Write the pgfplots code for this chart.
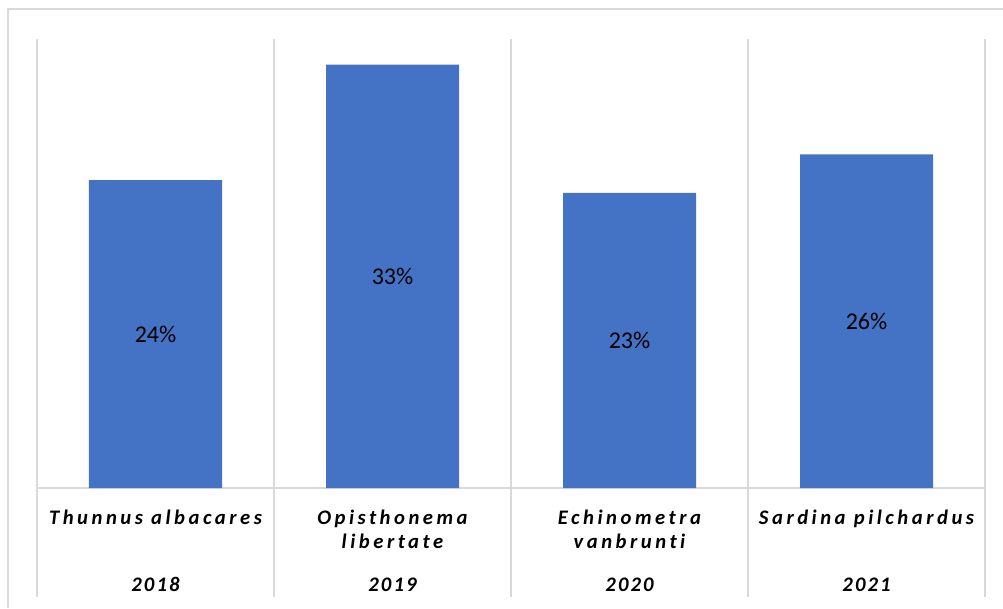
\documentclass[border=0pt]{standalone}
\usepackage{pgfplots}
\pgfplotsset{compat=1.18}
\usepackage{fontspec}
\setmainfont{Carlito}
\newfontfamily\catfont[LetterSpace=17,Ligatures=NoCommon]{Carlito}
\newfontfamily\yearfont[LetterSpace=10]{Carlito}
\definecolor{barblue}{HTML}{4472C4}
\definecolor{gridgray}{HTML}{D9D9D9}

\begin{document}
\begin{tikzpicture}
  % page area and chart frame
  \path[use as bounding box] (0pt,0pt) rectangle (752.25pt,456pt);
  \draw[gridgray, line width=1.5pt] (6pt,0pt) -- (6pt,449.25pt) -- (752.25pt,449.25pt);

  \begin{axis}[
    at={(27.75pt,90pt)}, anchor=south west,
    scale only axis,
    width=711pt, height=336.75pt,
    xmin=-0.5, xmax=3.5, ymin=0, ymax=35,
    axis line style={draw=none},
    ytick=\empty,
    xtick={0,1,2,3},
    major tick length=0pt,
    xticklabels={
      {Thunnus albacares},
      {Opisthonema\\libertate},
      {Echinometra\\vanbrunti},
      {Sardina pilchardus}},
    xticklabel style={anchor=north, inner sep=0pt, yshift=-16.5pt,
      align=center, font=\catfont\fontsize{15.5}{17.6}\selectfont\bfseries\itshape},
    ybar, bar width=99.75pt, bar shift=0pt,
    clip=false,
    /pgf/number format/assume math mode=true,
    /pgf/number format/fixed, /pgf/number format/precision=0,
    visualization depends on=y \as \rawy,
    nodes near coords={\pgfmathprintnumber{\pgfplotspointmeta}\%},
    every node near coord/.append style={anchor=center,
      font=\fontsize{18}{21}\selectfont, text=black,
      shift={(axis direction cs:0,-\rawy/2)}},
  ]
    % category separators, running down through the label area
    \pgfplotsinvokeforeach{-0.5,0.5,1.5,2.5,3.5}{
      \draw[gridgray, line width=1.5pt] (axis cs:#1,35) -- (axis cs:#1,-8.5);
    }
    \draw[gridgray, line width=1.5pt] (axis cs:-0.5,0) -- (axis cs:3.5,0);

    \addplot[fill=barblue, draw=none] coordinates {(0,24) (1,33) (2,23) (3,26)};

    % years, second level of the category axis
    \node[anchor=base, inner sep=0pt, font=\yearfont\fontsize{15.5}{17}\selectfont\bfseries\itshape]
      at (axis cs:0,-8.1) {2018};
    \node[anchor=base, inner sep=0pt, font=\yearfont\fontsize{15.5}{17}\selectfont\bfseries\itshape]
      at (axis cs:1,-8.1) {2019};
    \node[anchor=base, inner sep=0pt, font=\yearfont\fontsize{15.5}{17}\selectfont\bfseries\itshape]
      at (axis cs:2,-8.1) {2020};
    \node[anchor=base, inner sep=0pt, font=\yearfont\fontsize{15.5}{17}\selectfont\bfseries\itshape]
      at (axis cs:3,-8.1) {2021};
  \end{axis}
\end{tikzpicture}
\end{document}
